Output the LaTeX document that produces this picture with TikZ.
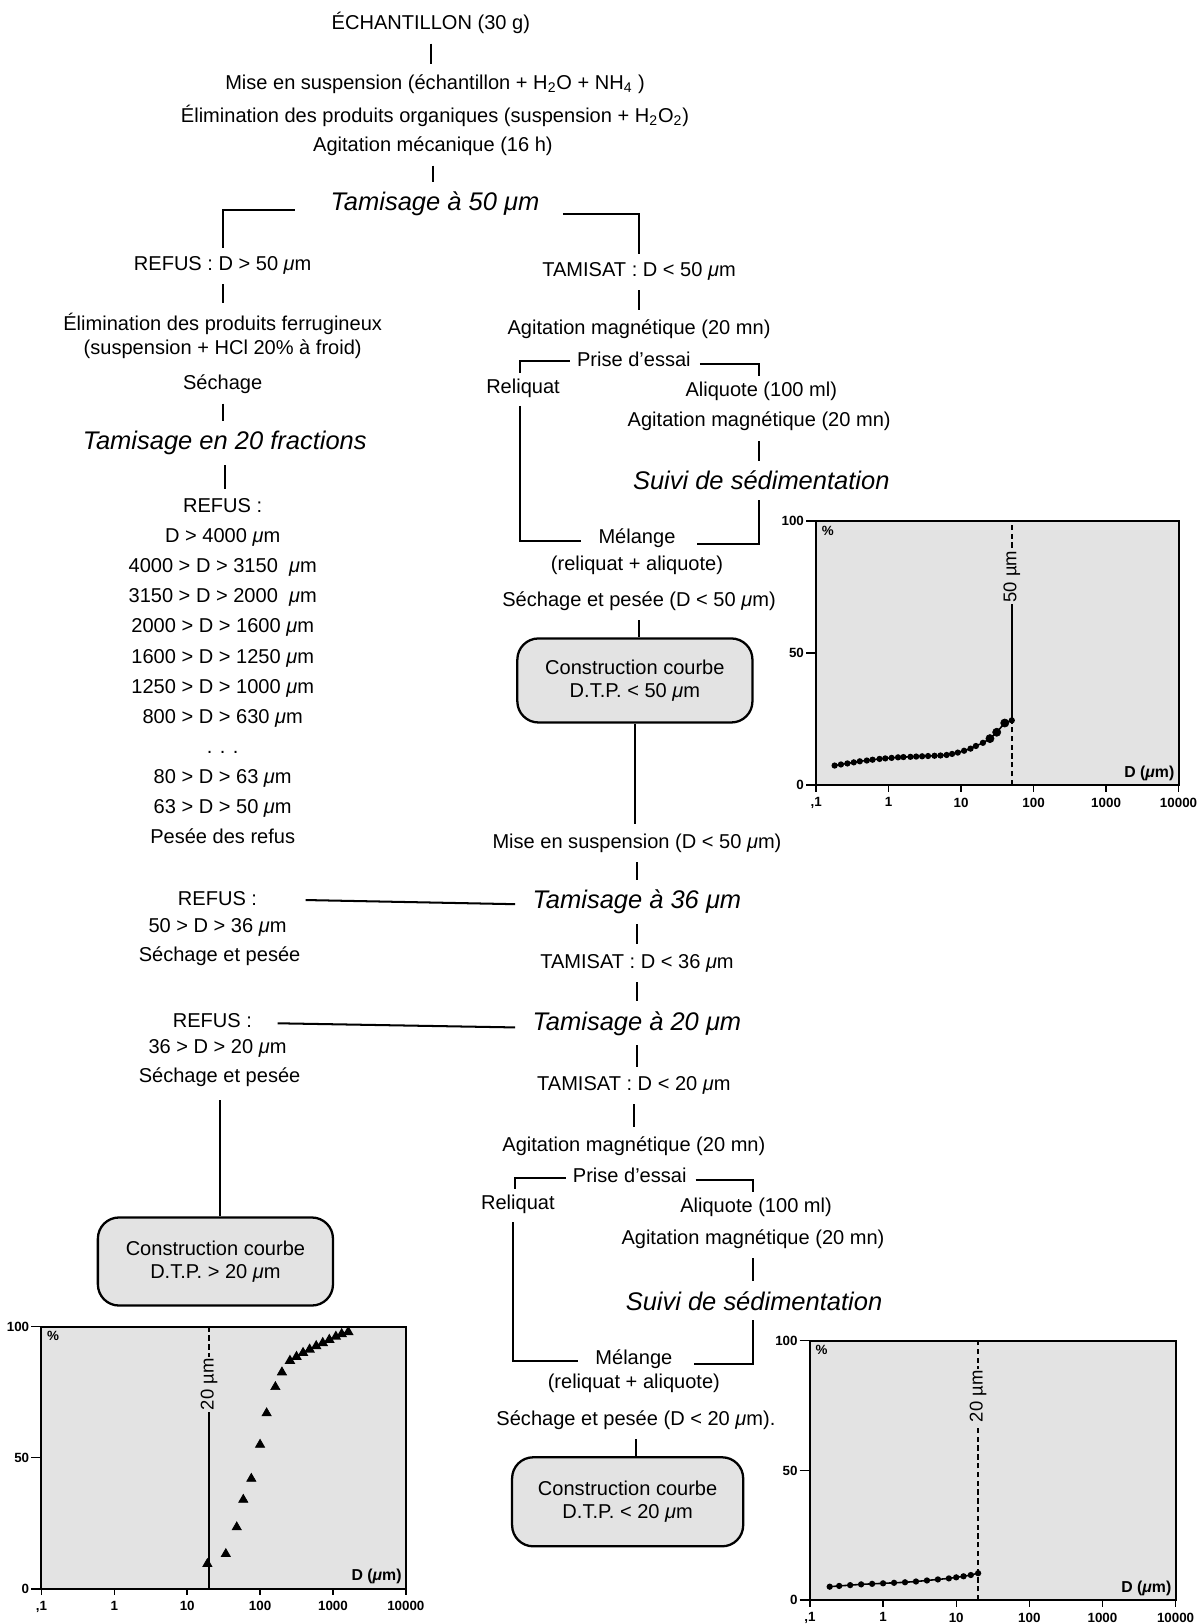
\documentclass[tikz,border=0pt]{standalone}
\usepackage{fontspec}
\setmainfont{Liberation Sans}
\usetikzlibrary{calc,plotmarks}
\newcommand{\um}{{\itshape μ}m}
\tikzset{
  txt/.style={font=\fontsize{11.4}{13.5}\selectfont,inner sep=1.5pt,align=center},
  ttl/.style={font=\fontsize{14.5}{16}\selectfont\itshape,inner sep=1.5pt},
  lnk/.style={line width=1.15pt},
  vln/.style={lnk,shorten <=4pt,shorten >=4pt},
  dtp/.style={draw,line width=1.3pt,fill=black!11,rounded corners=12pt,align=center,
    font=\fontsize{11.4}{13}\selectfont,minimum width=4.7cm,minimum height=1.72cm},
  frm/.style={draw,line width=1.1pt,fill=black!11},
  tck/.style={font=\fontsize{7.6}{8}\selectfont\bfseries,inner sep=1pt},
  cut/.style={font=\fontsize{10.5}{11}\selectfont,rotate=90,fill=black!11,inner sep=1pt},
  cutln/.style={line width=1.3pt,dash pattern=on 3pt off 2pt},
  dtpaxes/.pic={
    \draw[frm] (0,0) rectangle (5,100);
    \foreach \v in {0,50,100}{
      \draw[line width=.8pt] (-0.14,\v) -- (0,\v);
      \node[tck,anchor=east] (-y\v) at (-0.14,\v) {\v};
    }
    \foreach \e/\t in {0/{,1},1/1,2/10,3/100,4/1000,5/10000}{
      \draw[line width=.8pt] (\e,0) -- (\e,-2.5);
      \node[tck,anchor=north] (-x\e) at (\e,-4) {\t};
    }
    \node[tck,anchor=north west] (-pct) at (0.05,99) {\%};
    \node[tck,font=\fontsize{9}{10}\selectfont\bfseries,anchor=south east] (-dum) at (4.97,1) {D (\um)};
  }
}
\begin{document}
\begin{tikzpicture}[x=0.0207cm,y=-0.0207cm]
  \useasboundingbox (0,0) rectangle (1160,1568);

  % tronc commun
  \node[txt] (ech) at (416,22) {ÉCHANTILLON (30 g)};
  \node[txt] (mise) at (420,81) {Mise en suspension (échantillon + H\textsubscript{2}O + NH\textsubscript{4} )};
  \node[txt] (orga) at (420,112) {Élimination des produits organiques (suspension + H\textsubscript{2}O\textsubscript{2})};
  \node[txt] (meca) at (418,141) {Agitation mécanique (16 h)};
  \node[ttl] (t50) at (420,197) {Tamisage à 50 \um};
  \draw[vln] (ech.south) -- (ech.south |- mise.north);
  \draw[vln] (meca.south) -- (meca.south |- t50.north);

  % refus > 50
  \node[txt] (r50) at (215,256) {REFUS : D > 50 \um};
  \node[txt] (ferr) at (215,324) {Élimination des produits ferrugineux\\(suspension + HCl 20\% à froid)};
  \node[txt] (sech) at (215,371) {Séchage};
  \node[ttl] (t20f) at (217,428) {Tamisage en 20 fractions};
  \node[txt,font=\fontsize{11.4}{17.1}\selectfont] (refl) at (215,648)
    {REFUS :\\D > 4000 \um\\4000 > D > 3150~~\um\\3150 > D > 2000~~\um\\2000 > D > 1600 \um\\
     1600 > D > 1250 \um\\1250 > D > 1000 \um\\800 > D > 630 \um\\. . .\\80 > D > 63 \um\\
     63 > D > 50 \um\\Pesée des refus};
  \draw[lnk,shorten >=3pt] ($(t50.west)+(-32,6)$) -| (r50.north);
  \draw[vln] (r50.south) -- (r50.south |- ferr.north);
  \draw[vln] (sech.south) -- (sech.south |- t20f.north);
  \draw[vln] (t20f.south) -- (t20f.south |- refl.north);

  % tamisat < 50
  \node[txt] (ts50) at (617,262) {TAMISAT : D < 50 \um};
  \node[txt] (mag1) at (617,318) {Agitation magnétique (20 mn)};
  \node[txt] (pe1) at (612,347) {Prise d'essai};
  \node[txt] (rel1) at (505,375) {Reliquat};
  \node[txt] (ali1) at (735,378) {Aliquote (100 ml)};
  \node[txt] (mag1b) at (733,407) {Agitation magnétique (20 mn)};
  \node[ttl] (sed1) at (735,464) {Suivi de sédimentation};
  \node[txt] (mel1) at (615,520) {Mélange};
  \node[txt] (mix1) at (615,546) {(reliquat + aliquote)};
  \node[txt] (sp1) at (617,580) {Séchage et pesée (D < 50 \um)};
  \node[dtp,minimum height=1.68cm] (c50) at (613,657) {Construction courbe\\D.T.P. < 50 \um};
  \node[txt] (ms50) at (615,814) {Mise en suspension (D < 50 \um)};
  \draw[lnk,shorten >=3pt] ($(t50.east)+(20,10)$) -| (ts50.north);
  \draw[vln] (ts50.south) -- (ts50.south |- mag1.north);
  \draw[lnk,shorten >=2pt] ($(pe1.west)+(-4,2)$) -| ($(rel1.north)+(-3,0)$);
  \draw[lnk,shorten >=2pt] ($(pe1.east)+(6,4)$) -| (mag1b.center |- ali1.north);
  \draw[lnk,shorten <=3pt] ($(rel1.south)+(-3,0)$) |- ($(mel1.west)+(-14,2)$);
  \draw[vln] (mag1b.south) -- (mag1b.south |- sed1.north);
  \draw[lnk,shorten <=4pt] (sed1.south -| mag1b) |- ($(mel1.east)+(18,5)$);
  \draw[lnk,shorten <=4pt] (sp1.south) -- (sp1.south |- c50.north);
  \draw[lnk,shorten >=4pt] (c50.south) -- (c50.south |- ms50.north);

  % tamisages 36 et 20
  \node[ttl] (t36) at (615,871) {Tamisage à 36 \um};
  \node[txt] (ts36) at (615,930) {TAMISAT : D < 36 \um};
  \node[ttl] (t20) at (615,988) {Tamisage à 20 \um};
  \node[txt] (ts20) at (612,1048) {TAMISAT : D < 20 \um};
  \node[txt] (r36) at (210,868) {REFUS :};
  \node[txt] (g36) at (210,895) {50 > D > 36 \um};
  \node[txt] (p36) at (212,923) {Séchage et pesée};
  \node[txt] (r20) at (205,985) {REFUS :};
  \node[txt] (g20) at (210,1012) {36 > D > 20 \um};
  \node[txt] (p20) at (212,1040) {Séchage et pesée};
  \node[dtp,minimum height=1.76cm] (c20a) at (208,1218) {Construction courbe\\D.T.P. > 20 \um};
  \draw[vln] (ms50.south) -- (ms50.south |- t36.north);
  \draw[vln] (t36.south) -- (t36.south |- ts36.north);
  \draw[vln] (ts36.south) -- (ts36.south |- t20.north);
  \draw[vln] (t20.south) -- (t20.south |- ts20.north);
  \draw[lnk] ($(r36.east)+(44,1)$) -- ($(t36.west)+(-14,2)$);
  \draw[lnk] ($(r20.east)+(22,3)$) -- ($(t20.west)+(-14,4)$);
  \draw[lnk,shorten <=6pt] (p20.south) -- (p20.south |- c20a.north);

  % tamisat < 20
  \node[txt] (mag2) at (612,1107) {Agitation magnétique (20 mn)};
  \node[txt] (pe2) at (608,1135) {Prise d'essai};
  \node[txt] (rel2) at (500,1163) {Reliquat};
  \node[txt] (ali2) at (730,1166) {Aliquote (100 ml)};
  \node[txt] (mag2b) at (727,1196) {Agitation magnétique (20 mn)};
  \node[ttl] (sed2) at (728,1256) {Suivi de sédimentation};
  \node[txt] (mel2) at (612,1312) {Mélange};
  \node[txt] (mix2) at (612,1336) {(reliquat + aliquote)};
  \node[txt] (sp2) at (614,1371) {Séchage et pesée (D < 20 \um).};
  \node[dtp,minimum width=4.62cm,minimum height=1.78cm] (c20b) at (606,1450) {Construction courbe\\D.T.P. < 20 \um};
  \draw[vln] (ts20.south) -- (ts20.south |- mag2.north);
  \draw[lnk,shorten >=2pt] ($(pe2.west)+(-4,2)$) -| ($(rel2.north)+(-3,0)$);
  \draw[lnk,shorten >=2pt] ($(pe2.east)+(6,4)$) -| (mag2b.center |- ali2.north);
  \draw[lnk,shorten <=3pt] ($(rel2.south)+(-5,0)$) |- ($(mel2.west)+(-14,2)$);
  \draw[vln] (mag2b.south) -- (mag2b.south |- sed2.north);
  \draw[lnk,shorten <=4pt] (sed2.south -| mag2b) |- ($(mel2.east)+(18,5)$);
  \draw[lnk,shorten <=4pt] (sp2.south) -- (sp2.south |- c20b.north);

  % courbe < 50
  \begin{scope}[shift={(788,758)},x=1.449cm,y=0.0528cm]
    \pic (g50) at (0,0) {dtpaxes};
    \draw[cutln] (2.699,0) -- (2.699,100);
    \draw[lnk] (2.699,24.5) -- (2.699,70);
    \node[cut] (cut50) at (2.699,79) {50 µm};
    \draw[line width=.9pt] plot[mark=*,mark size=1.3pt] coordinates {
      (0.255,7.4) (0.342,7.8) (0.431,8.2) (0.519,8.6) (0.602,9) (0.699,9.3)
      (0.778,9.6) (0.875,9.9) (0.954,10.1) (1.041,10.3) (1.13,10.5) (1.204,10.6)
      (1.301,10.7) (1.38,10.8) (1.462,10.9) (1.544,11) (1.633,11.1) (1.716,11.2)
      (1.8,11.4) (1.875,11.8) (1.954,12.3) (2.041,13) (2.13,13.8) (2.204,14.8)
      (2.301,16) (2.398,17.6) (2.491,20) (2.602,23.5) (2.699,24.5)};
    \draw plot[only marks,mark=*,mark size=2.3pt] coordinates {(2.398,17.6) (2.491,20) (2.602,23.5)};
  \end{scope}

  % courbe > 20
  \begin{scope}[shift={(40,1534)},x=1.457cm,y=0.0524cm]
    \pic (g20a) at (0,0) {dtpaxes};
    \draw[cutln] (2.301,100) -- (2.301,88);
    \draw[line width=1.3pt] (2.301,0) -- (2.301,68);
    \node[cut] (cut20a) at (2.301,78) {20 µm};
    \draw plot[only marks,mark=triangle*,mark size=3pt] coordinates {
      (2.277,9.5) (2.53,13.3) (2.68,23.5) (2.77,34) (2.88,42) (3.0,55)
      (3.09,67) (3.21,77) (3.30,82.6)};
    \draw[line width=1.2pt] plot[mark=triangle*,mark size=2.3pt] coordinates {
      (3.41,87) (3.5,88.5) (3.59,90) (3.68,91.3) (3.77,92.6) (3.86,93.8)
      (3.95,95) (4.04,96.2) (4.12,97.2) (4.21,98)};
  \end{scope}

  % courbe < 20
  \begin{scope}[shift={(782,1545)},x=1.462cm,y=0.0519cm]
    \pic (g20b) at (0,0) {dtpaxes};
    \draw[cutln] (2.301,0) -- (2.301,100);
    \node[cut] (cut20b) at (2.301,78.6) {20 µm};
    \draw[line width=.9pt] plot[mark=*,mark size=1.3pt] coordinates {
      (0.27,5.2) (0.4,5.5) (0.55,5.8) (0.7,6.1) (0.85,6.3) (1.0,6.5) (1.15,6.7)
      (1.3,6.9) (1.45,7.2) (1.6,7.6) (1.75,8.0) (1.9,8.4) (2.0,8.8) (2.1,9.2)
      (2.2,9.7) (2.3,10.4)};
  \end{scope}
\end{tikzpicture}
\end{document}
